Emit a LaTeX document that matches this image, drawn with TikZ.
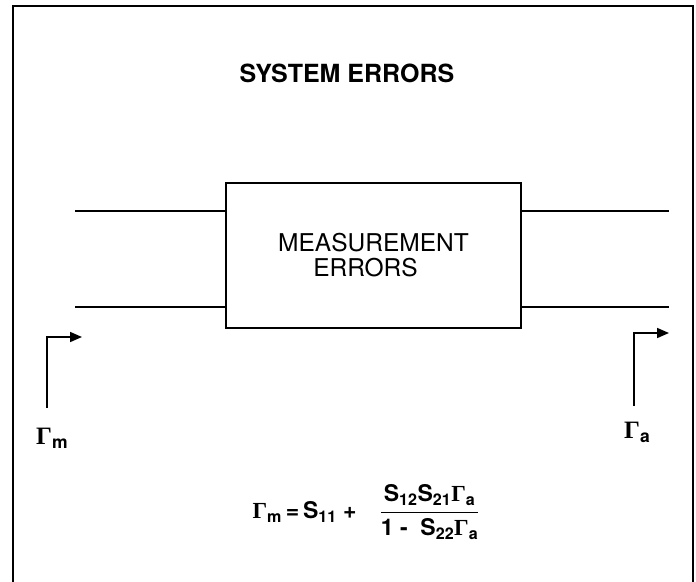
\documentclass[tikz,border=0pt]{standalone}
\usepackage{amsmath}
\usepackage{fontspec}
\setmainfont{TeX Gyre Heros}
\newfontfamily\gamfont{Liberation Serif}
\usetikzlibrary{arrows.meta}
\newcommand{\Gam}{{\gamfont\bfseries Γ}}
\tikzset{
  frame/.style = {line width=1.6pt},
  wire/.style  = {line width=1.5pt},
  block/.style = {rectangle, draw=black, line width=1.6pt, minimum width=295pt,
                  minimum height=145pt, align=center, inner sep=0pt,
                  font=\fontsize{24.5}{28}\selectfont},
  refl/.style  = {-{Triangle[length=12pt,width=10pt]}, line width=1.7pt},
  title/.style = {font=\fontsize{25}{29}\selectfont\bfseries},
  gamlbl/.style = {font=\fontsize{25}{29}\selectfont\bfseries, inner sep=0pt},
}

\begin{document}
\begin{tikzpicture}[x=1pt, y=-1pt]
      \useasboundingbox (0,0) rectangle (696,581);
      \draw[frame] (13,585) -- (13,6) -- (693,6) -- (693,585);

      \node[title] (sys) at (347,73) {SYSTEM ERRORS};
      \node[block] (meas) at (373.5,255.5)
        {MEASUREMENT\\[-3pt]\hspace*{-16pt}ERRORS};

      % ports
      \coordinate (inup) at (75,211);
      \coordinate (inlo) at (75,307);
      \coordinate (outup) at (669,211);
      \coordinate (outlo) at (669,307);
      \draw[wire] (inup) -- (inup -| meas.west);
      \draw[wire] (inlo) -- (inlo -| meas.west);
      \draw[wire] (meas.east |- outup) -- (outup);
      \draw[wire] (meas.east |- outlo) -- (outlo);

      % reflection arrows
      \coordinate (mbot) at (47,408);
      \coordinate (mtip) at (82,337);
      \coordinate (abot) at (634,406);
      \coordinate (atip) at (669,333);
      \draw[refl] (mbot) |- (mtip);
      \draw[refl] (abot) |- (atip);
      \node[gamlbl, anchor=north west] (gm) at (36,428) {\Gam$_{\text{m}}$};
      \node[gamlbl, anchor=north west] (ga) at (624,422) {\Gam$_{\text{a}}$};

      \node[font=\fontsize{23}{27}\selectfont\bfseries] (eq) at (366,512)
        {$\text{\Gam}_{\text{m}}\text{\,=\,S}_{\text{11}}\text{ +}\quad
          \dfrac{\text{S}_{\text{12}}\text{S}_{\text{21}}\text{\Gam}_{\text{a}}}
                {\text{1 -\ \ S}_{\text{22}}\text{\Gam}_{\text{a}}}$};
    \end{tikzpicture}
\end{document}
